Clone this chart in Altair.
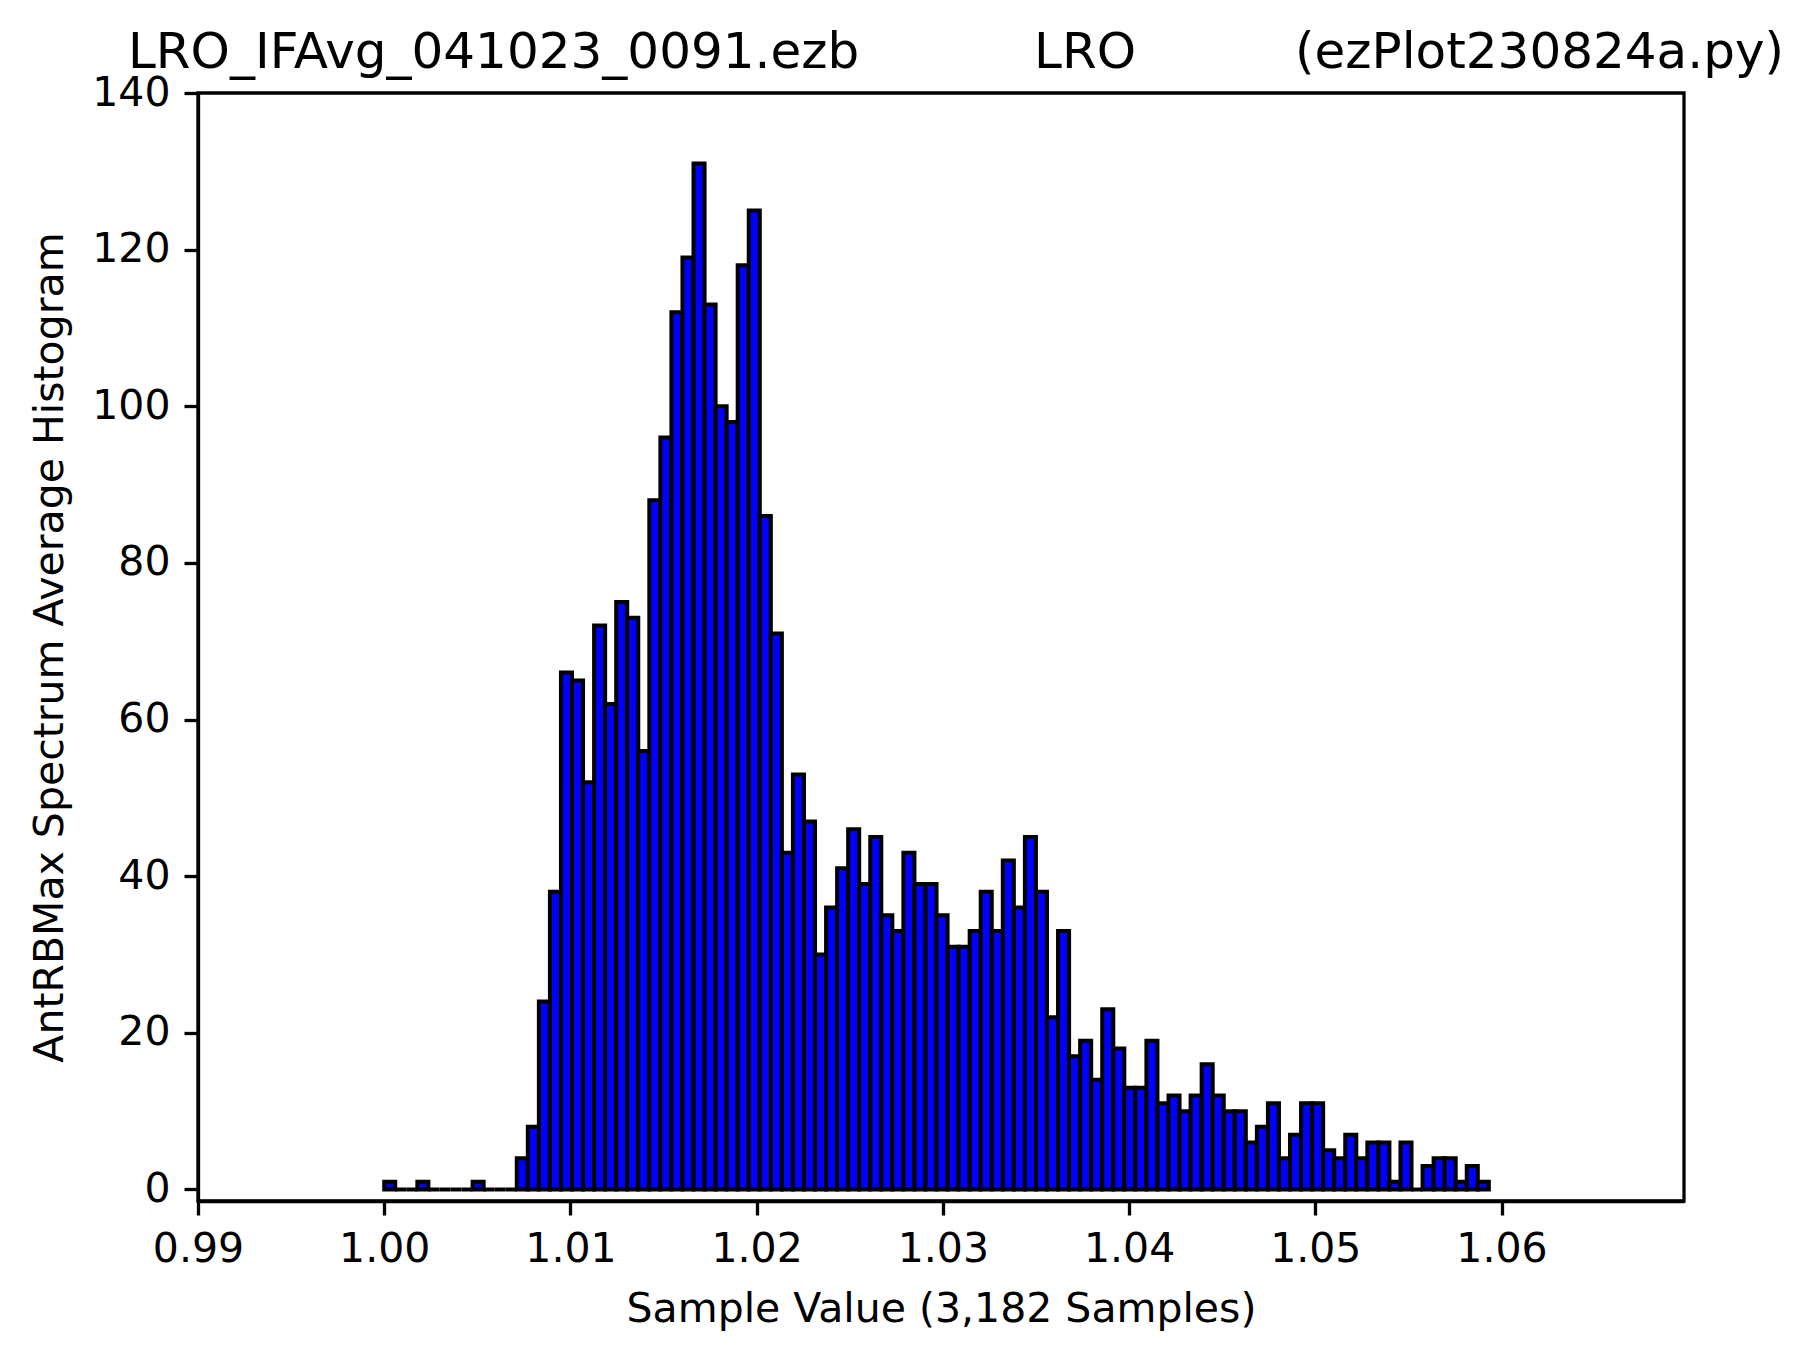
import altair as alt
import numpy as np
import pandas as pd

# Histogram counts (100 bins from 1.000 to ~1.0593)
counts = [1, 0, 0, 1, 0, 0, 0, 0, 1, 0, 0, 0,
          4, 8, 24, 38, 66, 65, 52, 72, 62, 75, 73, 56, 88, 96, 112, 119, 131, 113,
          100, 98, 118, 125, 86, 71, 43, 53, 47, 30, 36, 41, 46, 39, 45, 35, 33, 43,
          39, 39, 35, 31, 31, 33, 38, 33, 42, 36, 45, 38, 22, 33, 17, 19, 14, 23,
          18, 13, 13, 19, 11, 12, 10, 12, 16, 12, 10, 10, 6, 8, 11, 4, 7, 11, 11,
          5, 4, 7, 4, 6, 6, 1, 6, 0, 3, 4, 4, 1, 3, 1]
bin_lo = 1.0
bin_hi = 1.05932
x_ticks = [0.99, 1.00, 1.01, 1.02, 1.03, 1.04, 1.05, 1.06]
y_ticks = [0, 20, 40, 60, 80, 100, 120, 140]
title_parts = ["LRO_IFAvg_041023_0091.ezb", "LRO", "(ezPlot230824a.py)"]

edges = np.linspace(bin_lo, bin_hi, len(counts) + 1)
df = pd.DataFrame({"x0": edges[:-1], "x1": edges[1:], "count": counts, "base": 0})

FONT = "DejaVu Sans"
W, H = 1486, 1108

xscale = alt.Scale(domain=[0.99, 1.0698], nice=False, zero=False)
yscale = alt.Scale(domain=[-1.47, 140], nice=False, zero=False)

bars = alt.Chart(df).mark_bar(
    color="#0000ff", stroke="black", strokeWidth=4, opacity=1
).encode(
    x=alt.X("x0:Q", scale=xscale,
            axis=alt.Axis(values=x_ticks, format=".2f", title="Sample Value (3,182 Samples)",
                          titlePadding=20, labelFlush=False)),
    x2="x1:Q",
    y=alt.Y("count:Q", scale=yscale,
            axis=alt.Axis(values=y_ticks, format="d", title="AntRBMax Spectrum Average Histogram",
                          titlePadding=20, labelFlush=False)),
    y2="base:Q",
)

tdf = pd.DataFrame({"t": title_parts})
t_left = alt.Chart(tdf[tdf.t == title_parts[0]]).mark_text(
    align="left", baseline="alphabetic", font=FONT, fontSize=50, color="black"
).encode(text="t:N", x=alt.value(-70), y=alt.value(-25))
t_mid = alt.Chart(tdf[tdf.t == title_parts[1]]).mark_text(
    align="center", baseline="alphabetic", font=FONT, fontSize=50, color="black"
).encode(text="t:N", x=alt.value(887), y=alt.value(-25))
t_right = alt.Chart(tdf[tdf.t == title_parts[2]]).mark_text(
    align="right", baseline="alphabetic", font=FONT, fontSize=50, color="black"
).encode(text="t:N", x=alt.value(1586), y=alt.value(-25))

chart = alt.layer(bars, t_left, t_mid, t_right).properties(
    width=W, height=H,
    autosize=alt.AutoSizeParams(type="none"),
    padding={"left": 190, "top": 85, "right": 120, "bottom": 150},
).configure(
    background="white",
    view=alt.ViewConfig(stroke="black", strokeWidth=3.3),
    axis=alt.AxisConfig(
        grid=False,
        domainColor="black", domainWidth=3.3,
        tickColor="black", tickWidth=3.3, tickSize=14,
        labelPadding=14, labelFont=FONT, labelFontSize=41, labelColor="black",
        titleFont=FONT, titleFontSize=41, titleFontWeight="normal", titleColor="black",
    ),
)

chart.save("out.html", embed_options={"renderer": "svg", "actions": False})
